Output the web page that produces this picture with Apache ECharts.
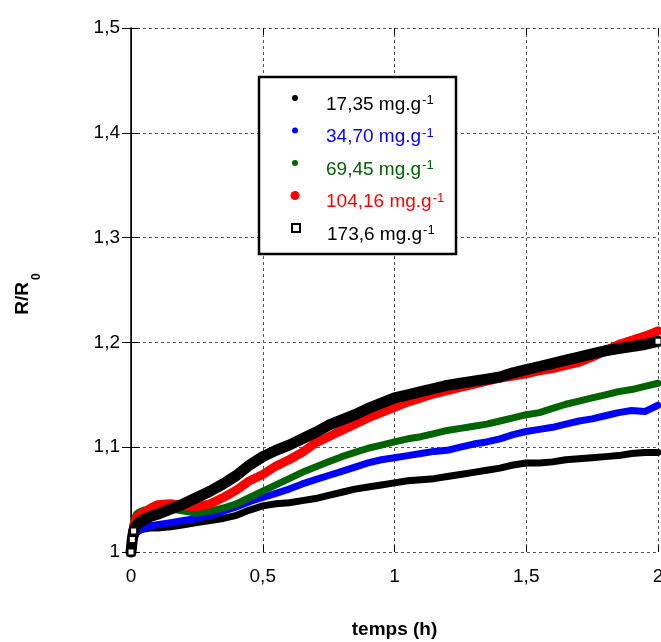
<!DOCTYPE html>
<html>
<head>
<meta charset="utf-8">
<script src="https://cdn.jsdelivr.net/npm/echarts@6/dist/echarts.min.js"></script>
<style>
  html, body { margin: 0; padding: 0; background: #fff; }
  #chart { width: 661px; height: 642px; }
</style>
</head>
<body>
<div id="chart"></div>
<script>
// temps (h)
const times = [0, 0.005, 0.01, 0.02, 0.03, 0.05, 0.075, 0.1, 0.15, 0.2, 0.25, 0.3, 0.35, 0.4, 0.45,
  0.5, 0.55, 0.6, 0.65, 0.7, 0.75, 0.8, 0.85, 0.9, 0.95, 1.0, 1.05, 1.1, 1.15, 1.2, 1.25, 1.3,
  1.35, 1.4, 1.45, 1.5, 1.55, 1.6, 1.65, 1.7, 1.75, 1.8, 1.85, 1.9, 1.95, 2.0];

// R/R0 pour chaque concentration
const c1735 = [1.000, 1.008, 1.014, 1.019, 1.021, 1.022, 1.023, 1.023, 1.024, 1.026, 1.028, 1.030,
  1.032, 1.035, 1.040, 1.044, 1.046, 1.047, 1.049, 1.051, 1.054, 1.057, 1.060, 1.062, 1.064, 1.066,
  1.068, 1.069, 1.070, 1.072, 1.074, 1.076, 1.078, 1.080, 1.083, 1.085, 1.085, 1.086, 1.088, 1.089,
  1.090, 1.091, 1.092, 1.094, 1.095, 1.095];
const c3470 = [1.000, 1.006, 1.012, 1.018, 1.020, 1.023, 1.025, 1.026, 1.028, 1.030, 1.032, 1.035,
  1.039, 1.043, 1.048, 1.052, 1.056, 1.060, 1.065, 1.069, 1.073, 1.077, 1.081, 1.085, 1.088, 1.090,
  1.092, 1.094, 1.096, 1.097, 1.100, 1.103, 1.105, 1.108, 1.112, 1.115, 1.117, 1.119, 1.122, 1.125,
  1.127, 1.130, 1.133, 1.135, 1.134, 1.140];
const c6945 = [1.000, 1.020, 1.030, 1.036, 1.038, 1.040, 1.040, 1.041, 1.041, 1.039, 1.037, 1.039,
  1.042, 1.046, 1.052, 1.058, 1.064, 1.070, 1.076, 1.081, 1.086, 1.091, 1.095, 1.099, 1.102, 1.105,
  1.108, 1.110, 1.113, 1.116, 1.118, 1.120, 1.122, 1.125, 1.128, 1.131, 1.133, 1.137, 1.141, 1.144,
  1.147, 1.150, 1.153, 1.155, 1.158, 1.161];
const c10416 = [1.000, 1.015, 1.025, 1.032, 1.035, 1.038, 1.042, 1.045, 1.046, 1.044, 1.043, 1.046,
  1.052, 1.059, 1.068, 1.074, 1.082, 1.088, 1.095, 1.104, 1.110, 1.116, 1.122, 1.128, 1.133, 1.138,
  1.143, 1.147, 1.151, 1.154, 1.157, 1.160, 1.163, 1.166, 1.168, 1.170, 1.173, 1.175, 1.178, 1.181,
  1.186, 1.192, 1.198, 1.202, 1.206, 1.211];
const c1736 = [1.000, 1.012, 1.020, 1.025, 1.028, 1.031, 1.034, 1.036, 1.041, 1.046, 1.052, 1.058,
  1.065, 1.073, 1.083, 1.091, 1.097, 1.102, 1.108, 1.114, 1.121, 1.126, 1.131, 1.137, 1.142, 1.147,
  1.150, 1.153, 1.156, 1.159, 1.161, 1.163, 1.165, 1.167, 1.171, 1.174, 1.177, 1.180, 1.183, 1.186,
  1.189, 1.192, 1.194, 1.196, 1.198, 1.201];

const seriesNames = ["17,35 mg.g", "34,70 mg.g", "69,45 mg.g", "104,16 mg.g", "173,6 mg.g"];
const xTicks = [0, 0.5, 1, 1.5, 2];
const yTicks = [1, 1.1, 1.2, 1.3, 1.4, 1.5];

const FONT = "'Liberation Sans', Arial, sans-serif";
const toPairs = (vals) => times.map((t, i) => [t, vals[i]]);
const comma = (v) => String(+v.toFixed(1)).replace(".", ",");

let chart = echarts.init(document.getElementById("chart"));

// une légende par ligne pour avoir des tailles de symbole différentes
function makeLegend(idx, color, top, size, icon, itemStyle) {
  const left = 295 - size / 2;
  const pad = 326 - left - size - 5;
  const leg = {
    data: [{ name: seriesNames[idx], icon: icon }],
    left: left,
    top: top,
    padding: 0,
    itemWidth: size,
    itemHeight: size,
    selectedMode: false,
    formatter: (n) => "{t|" + n + "}{s|-1}",
    textStyle: {
      rich: {
        t: { fontSize: 19, fontFamily: FONT, color: color, lineHeight: 22, verticalAlign: "top", padding: [8, 0, 0, pad] },
        s: { fontSize: 13, fontFamily: FONT, color: color, lineHeight: 14, verticalAlign: "top", padding: [7, 0, 0, 1] },
      },
    },
  };
  if (itemStyle) leg.data[0].itemStyle = itemStyle;
  return leg;
}

function lineSeries(name, vals, color, width, z) {
  return {
    name: name,
    type: "line",
    data: toPairs(vals),
    showSymbol: false,
    z: z,
    itemStyle: { color: color },
    lineStyle: { color: color, width: width, join: "round", cap: "round" },
    animation: false,
  };
}

const lastIdx = times.length - 1;

chart.setOption({
  backgroundColor: "#fff",
  animation: false,
  grid: { left: 131, right: 3, top: 28, bottom: 90, outerBoundsMode: "none", containLabel: false },
  graphic: [
    {
      type: "rect",
      z: 3,
      shape: { x: 259, y: 77, width: 197, height: 177 },
      style: { fill: "#fff", stroke: "#000", lineWidth: 2.5 },
    },
  ],
  legend: [
    makeLegend(0, "#000", 87, 6, "circle"),
    makeLegend(1, "#0000ff", 119.5, 6, "circle"),
    makeLegend(2, "#006400", 152, 6, "circle"),
    makeLegend(3, "#ff0000", 184.5, 9, "circle"),
    makeLegend(4, "#000", 217, 8, "rect", { color: "#fff", borderColor: "#000", borderWidth: 2 }),
  ],
  xAxis: [
    {
      type: "value",
      min: xTicks[0],
      max: xTicks[xTicks.length - 1],
      interval: 0.5,
      name: "temps (h)",
      nameLocation: "middle",
      nameGap: 68,
      nameTextStyle: { fontSize: 19, fontWeight: "bold", fontFamily: FONT, color: "#000" },
      axisLine: { show: false },
      axisTick: { show: true, inside: true, length: 7, lineStyle: { color: "#000" } },
      axisLabel: { fontSize: 19, fontFamily: FONT, color: "#000", margin: 15, formatter: comma },
      splitLine: { show: true, lineStyle: { color: "#555", type: [3, 3], width: 1 } },
    },
    {
      type: "value",
      position: "top",
      min: xTicks[0],
      max: xTicks[xTicks.length - 1],
      interval: 0.5,
      axisLine: { show: false },
      axisTick: { show: true, inside: true, length: 7, lineStyle: { color: "#000" } },
      axisLabel: { show: false },
      splitLine: { show: false },
    },
  ],
  yAxis: [
    {
      type: "value",
      min: yTicks[0],
      max: yTicks[yTicks.length - 1],
      interval: 0.1,
      name: "{a|R/R}{b|0}",
      nameLocation: "middle",
      nameRotate: 90,
      nameGap: 96,
      nameTextStyle: {
        padding: [0, 8, 0, 0],
        rich: {
          a: { fontSize: 19, fontWeight: "bold", fontFamily: FONT, color: "#000", lineHeight: 22, verticalAlign: "top" },
          b: { fontSize: 12, fontWeight: "bold", fontFamily: FONT, color: "#000", lineHeight: 12, verticalAlign: "top", padding: [18, 0, 0, 2] },
        },
      },
      axisLine: { show: true, lineStyle: { color: "#000", width: 1 } },
      axisTick: { show: true, inside: true, length: 9, lineStyle: { color: "#000" } },
      axisLabel: { fontSize: 19, fontFamily: FONT, color: "#000", margin: 11, formatter: comma },
      splitLine: { show: true, lineStyle: { color: "#555", type: [3, 3], width: 1 } },
    },
    {
      type: "value",
      position: "right",
      min: yTicks[0],
      max: yTicks[yTicks.length - 1],
      interval: 0.1,
      axisLine: { show: true, lineStyle: { color: "#000", width: 1.5 } },
      axisTick: { show: true, inside: true, length: 9, lineStyle: { color: "#000" } },
      axisLabel: { show: false },
      splitLine: { show: false },
    },
  ],
  series: [
    lineSeries(seriesNames[0], c1735, "#000", 7, 2),
    lineSeries(seriesNames[1], c3470, "#0000ff", 7, 2),
    lineSeries(seriesNames[2], c6945, "#006400", 7, 2),
    lineSeries(seriesNames[3], c10416, "#ff0000", 9, 2),
    {
      name: seriesNames[4],
      type: "line",
      data: toPairs(c1736),
      z: 2,
      showSymbol: true,
      showAllSymbol: true,
      symbol: "rect",
      symbolSize: (val, p) => (p.dataIndex <= 2 || p.dataIndex === lastIdx ? 7 : 0),
      itemStyle: { color: "#fff", borderColor: "#000", borderWidth: 2 },
      lineStyle: { color: "#000", width: 11, join: "round", cap: "round" },
      clip: false,
      animation: false,
    },
  ],
});
</script>
</body>
</html>
